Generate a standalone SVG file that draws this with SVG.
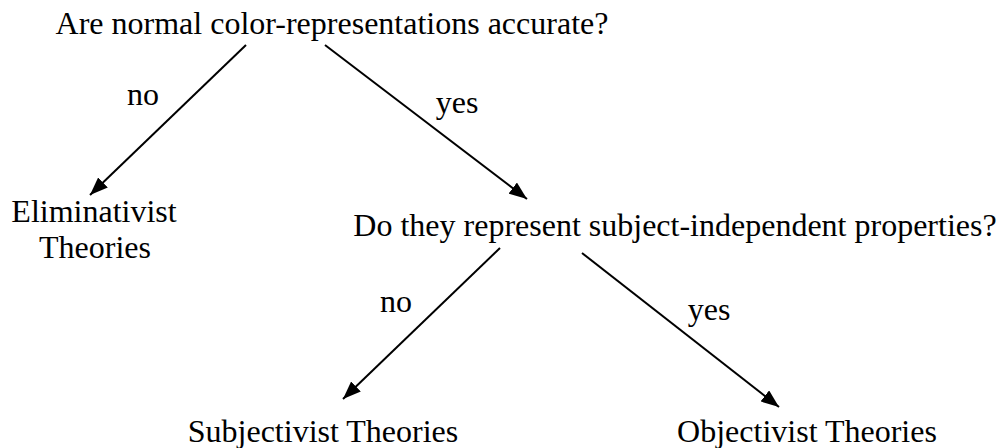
<svg xmlns="http://www.w3.org/2000/svg" width="1000" height="448" viewBox="0 0 1000 448">
<style>
text{font-family:"Liberation Serif","Times New Roman",serif;font-size:32px;fill:#000}
.c line{stroke:#000;stroke-width:2}
</style>
<defs>
<marker id="ah" viewBox="0 0 18 14" refX="18" refY="7" markerWidth="18" markerHeight="14" markerUnits="userSpaceOnUse" orient="auto"><path d="M0,0 L18,7 L0,14 z" fill="#000"/></marker>
</defs>
<rect width="1000" height="448" fill="#fff"/>
<g id="q1"><text x="332" y="34" text-anchor="middle">Are normal color-representations accurate?</text></g>
<g id="elim"><text x="94" y="222" text-anchor="middle">Eliminativist</text><text x="95" y="258" text-anchor="middle">Theories</text></g>
<g id="q2"><text x="675" y="236" text-anchor="middle">Do they represent subject-independent properties?</text></g>
<g id="subj"><text x="323" y="442" text-anchor="middle">Subjectivist Theories</text></g>
<g id="obj"><text x="807" y="442" text-anchor="middle">Objectivist Theories</text></g>
<g class="c" id="connectors">
<line x1="246" y1="45" x2="90" y2="195" marker-end="url(#ah)"/>
<line x1="325" y1="45" x2="527" y2="199" marker-end="url(#ah)"/>
<line x1="500" y1="248" x2="343" y2="399" marker-end="url(#ah)"/>
<line x1="582" y1="253" x2="779" y2="407" marker-end="url(#ah)"/>
<text x="143" y="105" text-anchor="middle">no</text>
<text x="457" y="113" text-anchor="middle">yes</text>
<text x="396" y="312" text-anchor="middle">no</text>
<text x="709" y="320" text-anchor="middle">yes</text>
</g>
</svg>
